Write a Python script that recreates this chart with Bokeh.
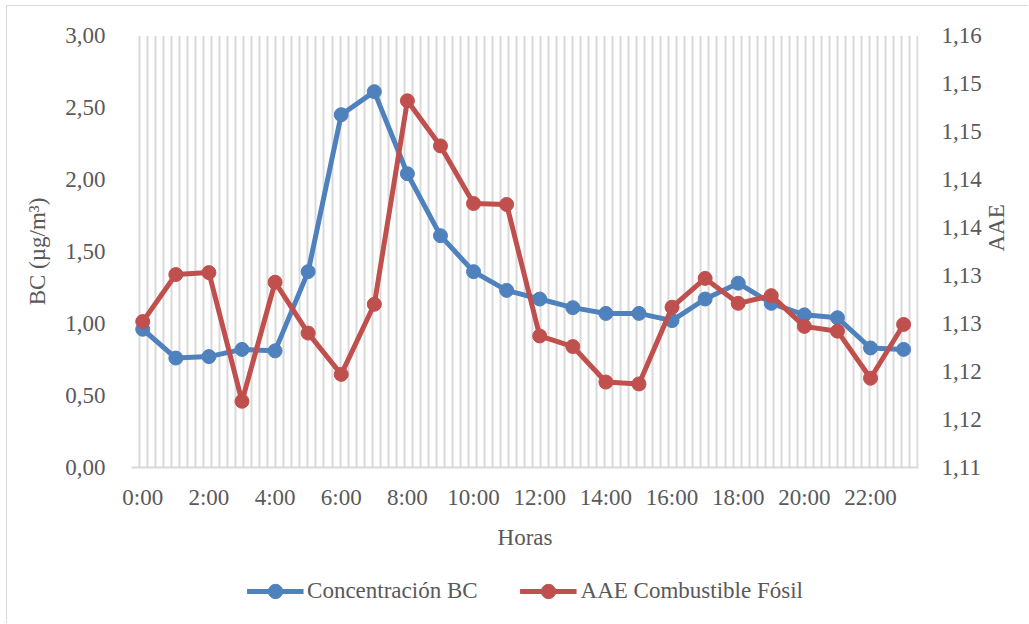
import math
import numpy as np
from bokeh.plotting import figure
from bokeh.layouts import column
from bokeh.models import (Range1d, LinearAxis, FixedTicker, CustomJSTickFormatter,
                          Legend, LegendItem)
from bokeh.embed import file_html
from bokeh.resources import INLINE

# ---- data ----
hours = ["0:00", "1:00", "2:00", "3:00", "4:00", "5:00", "6:00", "7:00",
         "8:00", "9:00", "10:00", "11:00", "12:00", "13:00", "14:00", "15:00",
         "16:00", "17:00", "18:00", "19:00", "20:00", "21:00", "22:00", "23:00"]
bc = [0.96, 0.76, 0.77, 0.82, 0.81, 1.36, 2.45, 2.61, 2.04, 1.61, 1.36, 1.23,
      1.17, 1.11, 1.07, 1.07, 1.02, 1.17, 1.28, 1.14, 1.06, 1.04, 0.83, 0.82]
aae = [1.1252, 1.1301, 1.1303, 1.1169, 1.1293, 1.1240, 1.1197, 1.1270,
       1.1482, 1.1435, 1.1375, 1.1374, 1.1237, 1.1226, 1.1189, 1.1187,
       1.1267, 1.1297, 1.1271, 1.1279, 1.1247, 1.1242, 1.1193, 1.1249]
bc_ticks = [0.0, 0.5, 1.0, 1.5, 2.0, 2.5, 3.0]
aae_ticks = [1.11, 1.115, 1.12, 1.125, 1.13, 1.135, 1.14, 1.145, 1.15, 1.155]
hour_ticks = [0, 2, 4, 6, 8, 10, 12, 14, 16, 18, 20, 22]
series_names = ["Concentración BC", "AAE Combustible Fósil"]

x = list(range(len(hours)))

BLUE = "#4F81BD"
RED = "#C0504D"
TXT = "#595959"
GRID = "#D9D9D9"
FONT = "Liberation Serif"
FS = "23px"

p = figure(width=1022, height=554,
           x_range=Range1d(-0.34, 23.45), y_range=Range1d(0, 3),
           output_backend="svg", toolbar_location=None,
           min_border_left=124, min_border_right=111,
           min_border_top=29, min_border_bottom=93)
p.styles = {"margin-left": "6px", "margin-top": "5px",
            "border-left": "1px solid #D9D9D9", "border-top": "1px solid #D9D9D9"}
p.outline_line_color = None
p.background_fill_color = "white"
p.border_fill_color = "white"

# vertical gridlines only
p.ygrid.grid_line_color = None
p.xgrid.ticker = FixedTicker(ticks=list(np.linspace(-0.34, 23.42, 99)))
p.xgrid.grid_line_color = GRID
p.xgrid.grid_line_width = 2

# x axis
xa = p.xaxis[0]
xa.ticker = FixedTicker(ticks=hour_ticks)
xa.major_label_overrides = {i: hours[i] for i in hour_ticks}
xa.axis_label = "Horas"
xa.axis_line_color = GRID
xa.axis_line_width = 2
xa.major_tick_line_color = None
xa.minor_tick_line_color = None
xa.major_tick_out = 0
xa.major_label_standoff = 17
xa.axis_label_standoff = 12

# left axis
ya = p.yaxis[0]
ya.ticker = FixedTicker(ticks=bc_ticks)
ya.formatter = CustomJSTickFormatter(code="return tick.toFixed(2).replace('.', ',');")
ya.axis_label = "BC (µg/m³)"
ya.axis_line_color = None
ya.major_tick_line_color = None
ya.minor_tick_line_color = None
ya.major_tick_out = 0
ya.major_label_standoff = 26
ya.axis_label_standoff = 12

# right axis
p.extra_y_ranges = {"aae": Range1d(1.11, 1.155)}
ra = LinearAxis(y_range_name="aae", ticker=FixedTicker(ticks=aae_ticks),
                formatter=CustomJSTickFormatter(code="return (tick + 1e-9).toFixed(2).replace('.', ',');"),
                axis_label="AAE")
ra.axis_line_color = None
ra.major_tick_line_color = None
ra.minor_tick_line_color = None
ra.major_tick_out = 0
ra.major_label_standoff = 23
ra.axis_label_standoff = 12
ra.axis_label_orientation = math.pi / 2
p.add_layout(ra, "right")

for ax in (xa, ya, ra):
    ax.major_label_text_font = FONT
    ax.major_label_text_font_size = FS
    ax.major_label_text_color = TXT
    ax.axis_label_text_font = FONT
    ax.axis_label_text_font_size = FS
    ax.axis_label_text_color = TXT
    ax.axis_label_text_font_style = "normal"

# series
p.line(x, bc, line_color=BLUE, line_width=5)
p.scatter(x, bc, size=14, fill_color=BLUE, line_color=BLUE)
p.line(x, aae, line_color=RED, line_width=5, y_range_name="aae")
p.scatter(x, aae, size=14, fill_color=RED, line_color=RED, y_range_name="aae")

# legend strip (separate figure below the chart)
q = figure(width=1022, height=64, x_range=Range1d(0, 1), y_range=Range1d(0, 1),
           output_backend="svg", toolbar_location=None,
           min_border_left=15, min_border_right=0, min_border_top=0, min_border_bottom=0)
q.styles = {"margin-left": "6px", "border-left": "1px solid #D9D9D9"}
q.axis.visible = False
q.grid.visible = False
q.outline_line_color = None
q.background_fill_color = "white"
q.border_fill_color = "white"
ql1 = q.line([-10, -9], [-10, -9], line_color=BLUE, line_width=5)
qs1 = q.scatter([-10], [-10], size=14, fill_color=BLUE, line_color=BLUE)
ql2 = q.line([-10, -9], [-10, -9], line_color=RED, line_width=5)
qs2 = q.scatter([-10], [-10], size=14, fill_color=RED, line_color=RED)

legend = Legend(items=[LegendItem(label=series_names[0], renderers=[ql1, qs1]),
                       LegendItem(label=series_names[1], renderers=[ql2, qs2])],
                orientation="horizontal", location="center")
legend.label_text_font = FONT
legend.label_text_font_size = FS
legend.label_text_color = TXT
legend.border_line_color = None
legend.background_fill_alpha = 0
legend.glyph_width = 57
legend.glyph_height = 36
legend.label_standoff = 4
legend.spacing = 42
legend.padding = 0
legend.margin = 0
q.add_layout(legend, "center")

open("out.html", "w").write(file_html(column(p, q, spacing=0), INLINE))
